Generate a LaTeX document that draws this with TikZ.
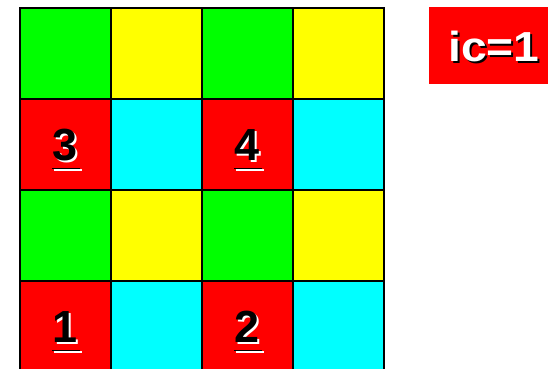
\documentclass[tikz,border=0pt]{standalone}
\usepackage{fontspec}
\setmainfont{Liberation Sans}
\definecolor{cg}{RGB}{0,255,0}
\definecolor{cy}{RGB}{255,255,0}
\definecolor{cr}{RGB}{255,0,0}
\definecolor{cc}{RGB}{0,255,255}
\tikzset{
  cell/.style={draw=black,line width=1.6pt,minimum width=91pt,minimum height=91pt,inner sep=0pt,anchor=north west},
  num/.style={font=\fontsize{45}{45}\selectfont\bfseries,inner sep=0pt,anchor=base},
  ul/.style={line width=1.6pt},
}
% #1 cell name, #2 digit, #3 node name
\newcommand{\shnum}[3]{%
  \coordinate (#3b) at ([yshift=-16.5pt]#1.center);
  \node[num,text=white] at ([xshift=1.8pt,yshift=-1.8pt]#3b) {#2};
  \node[num,text=black] (#3) at (#3b) {#2};
  \draw[ul,white] ([xshift=-11.5pt,yshift=-9.3pt]#3b) -- ([xshift=16.5pt,yshift=-9.3pt]#3b);
  \draw[ul,black] ([xshift=-13pt,yshift=-7.6pt]#3b) -- ([xshift=15pt,yshift=-7.6pt]#3b);
}
\begin{document}
\begin{tikzpicture}[x=1pt,y=-1pt]
\useasboundingbox (0,0) rectangle (548,368);
\begin{scope}
\clip (0,0) rectangle (548,368);
% row 1
\node[cell,fill=cg] (a11) at (19,7) {};
\node[cell,fill=cy] (a12) at (110,7) {};
\node[cell,fill=cg] (a13) at (201,7) {};
\node[cell,fill=cy] (a14) at (292,7) {};
% row 2
\node[cell,fill=cr] (a21) at (19,98) {};
\node[cell,fill=cc] (a22) at (110,98) {};
\node[cell,fill=cr] (a23) at (201,98) {};
\node[cell,fill=cc] (a24) at (292,98) {};
% row 3
\node[cell,fill=cg] (a31) at (19,189) {};
\node[cell,fill=cy] (a32) at (110,189) {};
\node[cell,fill=cg] (a33) at (201,189) {};
\node[cell,fill=cy] (a34) at (292,189) {};
% row 4
\node[cell,fill=cr] (a41) at (19,280) {};
\node[cell,fill=cc] (a42) at (110,280) {};
\node[cell,fill=cr] (a43) at (201,280) {};
\node[cell,fill=cc] (a44) at (292,280) {};
\end{scope}
\shnum{a21}{3}{n3}
\shnum{a23}{4}{n4}
\shnum{a41}{1}{n1}
\shnum{a43}{2}{n2}
% ic=1 box
\node[fill=cr,minimum width=119pt,minimum height=77pt,inner sep=0pt,anchor=north west] (ic) at (429,7) {};
\coordinate (icb) at (494,61);
\node[font=\fontsize{42}{42}\selectfont\bfseries,text=black,inner sep=0pt,anchor=base,xscale=1.1] at ([xshift=2pt,yshift=-2pt]icb) {ic=1};
\node[font=\fontsize{42}{42}\selectfont\bfseries,text=white,inner sep=0pt,anchor=base,xscale=1.1] (ictext) at (icb) {ic=1};
\end{tikzpicture}
\end{document}
